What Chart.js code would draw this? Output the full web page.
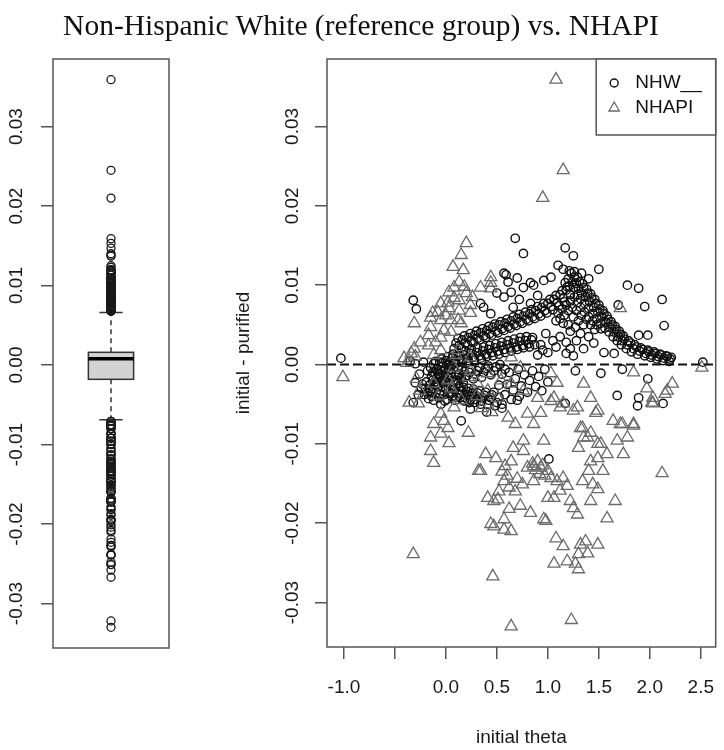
<!DOCTYPE html>
<html lang="en">
<head>
  <meta charset="UTF-8" />
  <title>Non-Hispanic White (reference group) vs. NHAPI</title>
  <style>
    body {
      margin: 0;
      background: #fff;
    }
    .wrap {
      position: relative;
      width: 724px;
      height: 750px;
    }
    .title {
      position: absolute;
      left: 0;
      top: 8px;
      width: 722px;
      text-align: center;
      font-family: "Liberation Serif", "Times New Roman", serif;
      font-size: 29.5px;
      line-height: 34px;
      color: #111;
      z-index: 2;
    }
    #boxChart {
      position: absolute;
      left: 0;
      top: 0;
    }
    #scatterChart {
      position: absolute;
      left: 200px;
      top: 0;
    }
  </style>
</head>
<body>
  <div class="wrap">
    <div class="title">Non-Hispanic White (reference group) vs. NHAPI</div>
    <canvas id="boxChart" width="200" height="750"></canvas>
    <canvas id="scatterChart" width="524" height="750"></canvas>
  </div>

  <script src="https://cdn.jsdelivr.net/npm/chart.js"></script>
  <script>
    const seriesNames = ["NHW__", "NHAPI"];
    const thetaTicks = [-1, -0.5, 0, 0.5, 1, 1.5, 2, 2.5];
    const thetaTickLabels = ["-1.0", "", "0.0", "0.5", "1.0", "1.5", "2.0", "2.5"];
    const diffTicks = [-0.03, -0.02, -0.01, 0, 0.01, 0.02, 0.03];
    const diffTickLabels = ["-0.03", "-0.02", "-0.01", "0.00", "0.01", "0.02", "0.03"];
    const thetaRange = [-1.166, 2.646];
    const diffRange = [-0.0356, 0.0385];
    const refLine = 0;

    // boxplot of all differences: lower whisker, Q1, median, Q3, upper whisker
    const boxStats = [-0.0069, -0.0018, 0.0008, 0.0016, 0.0066];

    // [initial theta, initial - purified]
    const nhwPoints = [
      [-1.03, 0.0008], [2.52, 0.0003], [-0.32, 0.0081], [-0.29, 0.0070], [-0.30, -0.0023], [-0.32, -0.0048],
      [-0.27, -0.0038], [-0.24, -0.0030], [-0.22, 0.0003], [-0.18, -0.0008], [-0.26, -0.0012], [-0.35, 0.0004],
      [-0.30, 0.0001],
      [-0.20, -0.0030], [-0.18, -0.0036], [-0.16, -0.0026], [-0.14, -0.0040], [-0.13, -0.0031], [-0.11, -0.0022],
      [-0.10, -0.0036], [-0.08, -0.0028], [-0.07, -0.0042], [-0.05, -0.0033], [-0.04, -0.0024], [-0.02, -0.0038],
      [0.00, -0.0030], [0.01, -0.0044], [0.03, -0.0035], [0.04, -0.0026], [0.06, -0.0040], [0.08, -0.0032],
      [0.09, -0.0045], [0.11, -0.0036], [0.13, -0.0028], [0.14, -0.0042], [0.16, -0.0034], [0.18, -0.0046],
      [0.20, -0.0038], [0.22, -0.0030], [0.24, -0.0044], [0.26, -0.0036], [0.28, -0.0048], [0.30, -0.0040],
      [0.33, -0.0033], [0.35, -0.0046], [0.38, -0.0039], [0.41, -0.0050], [0.44, -0.0042], [0.47, -0.0035],
      [0.50, -0.0048],
      [-0.19, -0.0022], [-0.15, -0.0034], [-0.12, -0.0045], [-0.09, -0.0024], [-0.06, -0.0037], [-0.03, -0.0029],
      [-0.01, -0.0046], [0.02, -0.0023], [0.05, -0.0037], [0.07, -0.0029], [0.10, -0.0041], [0.12, -0.0024],
      [0.15, -0.0038], [0.17, -0.0029], [0.19, -0.0042], [0.21, -0.0034], [0.23, -0.0048], [0.25, -0.0040],
      [0.27, -0.0031], [0.29, -0.0044], [0.31, -0.0036], [0.34, -0.0050], [0.36, -0.0042], [0.39, -0.0035],
      [0.42, -0.0045], [0.45, -0.0038], [0.48, -0.0052], [0.52, -0.0041], [0.55, -0.0050], [-0.17, -0.0043],
      [-0.21, -0.0038], [-0.23, -0.0025],
      [-0.14, -0.0015], [-0.11, -0.0010], [-0.09, -0.0018], [-0.06, -0.0012], [-0.03, -0.0020], [-0.01, -0.0008],
      [0.02, -0.0016], [0.05, -0.0010], [0.07, -0.0021], [0.10, -0.0013], [0.12, -0.0006], [0.15, -0.0017],
      [0.18, -0.0009], [0.21, -0.0014], [0.25, -0.0006], [0.29, -0.0012], [0.33, -0.0004], [0.37, -0.0010],
      [0.42, -0.0002], [0.47, -0.0008], [0.53, 0.0000], [0.58, -0.0006], [0.04, 0.0003], [-0.04, 0.0002],
      [0.20, 0.0002], [0.35, 0.0006],
      [-0.13, -0.0020], [-0.10, -0.0026], [-0.07, -0.0016], [-0.05, -0.0007], [-0.02, -0.0014], [0.00, -0.0022],
      [0.03, -0.0008], [0.06, -0.0016], [0.08, -0.0003], [0.11, -0.0020], [0.13, -0.0012], [0.16, -0.0003],
      [0.17, -0.0022], [0.19, -0.0016], [0.23, -0.0010], [0.27, -0.0018], [0.31, -0.0008], [0.35, -0.0016],
      [0.39, -0.0005], [0.44, -0.0013], [0.49, -0.0003], [0.01, -0.0001], [-0.08, -0.0011],
      [0.55, -0.0012], [0.60, -0.0025], [0.62, -0.0010], [0.66, -0.0032], [0.68, -0.0018], [0.71, -0.0006],
      [0.74, -0.0027], [0.77, -0.0013], [0.80, -0.0035], [0.82, -0.0020], [0.85, -0.0008], [0.88, -0.0028],
      [0.91, -0.0015], [0.94, -0.0033], [0.97, -0.0006], [1.00, -0.0022], [0.58, -0.0038], [0.64, -0.0044],
      [0.72, -0.0040], [0.52, -0.0026],
      [-0.15, -0.0004], [-0.12, 0.0001], [-0.09, -0.0006], [-0.06, 0.0003], [-0.03, -0.0002], [0.00, 0.0005],
      [0.03, 0.0000], [0.06, 0.0008], [0.09, 0.0003], [0.12, 0.0010], [0.15, 0.0006], [0.18, 0.0012],
      [0.21, 0.0008], [0.24, 0.0014], [0.27, 0.0009], [0.30, 0.0015], [0.33, 0.0011], [0.36, 0.0017],
      [0.39, 0.0013], [0.42, 0.0019], [0.45, 0.0015], [0.48, 0.0021], [0.51, 0.0017], [0.54, 0.0023],
      [0.57, 0.0019], [0.60, 0.0025], [0.63, 0.0021], [0.66, 0.0027], [0.69, 0.0022], [0.72, 0.0029],
      [0.75, 0.0024], [0.78, 0.0030], [0.81, 0.0026], [0.84, 0.0031], [0.87, 0.0025],
      [-0.13, -0.0010], [-0.10, 0.0004], [-0.07, -0.0012], [-0.04, 0.0007], [-0.01, -0.0005], [0.02, 0.0010],
      [0.05, -0.0002], [0.07, 0.0013], [0.10, 0.0001], [0.13, 0.0015], [0.16, 0.0003], [0.19, 0.0017],
      [0.22, 0.0005], [0.25, 0.0019], [0.28, 0.0006], [0.31, 0.0021], [0.34, 0.0008], [0.37, 0.0022],
      [0.40, 0.0010], [0.43, 0.0024], [0.46, 0.0011], [0.49, 0.0026], [0.52, 0.0013], [0.55, 0.0028],
      [0.58, 0.0015], [0.61, 0.0030], [0.64, 0.0017], [0.67, 0.0032], [0.70, 0.0019], [0.73, 0.0034],
      [0.76, 0.0021], [0.79, 0.0035], [0.82, 0.0022], [0.85, 0.0034],
      [0.90, 0.0012], [0.93, 0.0025], [1.00, 0.0015], [1.08, 0.0022], [1.12, 0.0035], [1.18, 0.0028],
      [1.22, 0.0020], [1.28, 0.0030], [1.35, 0.0020], [1.40, 0.0035],
      [0.08, 0.0020], [0.10, 0.0027], [0.13, 0.0024], [0.16, 0.0031], [0.19, 0.0027], [0.22, 0.0034],
      [0.25, 0.0030], [0.28, 0.0037], [0.31, 0.0033], [0.34, 0.0040], [0.37, 0.0036], [0.40, 0.0043],
      [0.43, 0.0039], [0.46, 0.0047], [0.49, 0.0042], [0.52, 0.0050], [0.55, 0.0045], [0.58, 0.0052],
      [0.61, 0.0048], [0.64, 0.0055], [0.67, 0.0051], [0.70, 0.0058], [0.73, 0.0054], [0.76, 0.0061],
      [0.79, 0.0057], [0.82, 0.0064], [0.85, 0.0060], [0.88, 0.0068], [0.91, 0.0064], [0.94, 0.0072],
      [0.97, 0.0068], [1.00, 0.0077], [1.03, 0.0073], [1.06, 0.0082], [1.09, 0.0078], [1.12, 0.0088],
      [1.15, 0.0084], [1.18, 0.0094], [1.21, 0.0099], [1.24, 0.0104], [1.26, 0.0110], [1.20, 0.0108],
      [1.23, 0.0115], [1.17, 0.0103],
      [0.12, 0.0033], [0.15, 0.0021], [0.18, 0.0036], [0.21, 0.0025], [0.24, 0.0039], [0.27, 0.0028],
      [0.30, 0.0042], [0.33, 0.0031], [0.36, 0.0045], [0.39, 0.0034], [0.42, 0.0048], [0.45, 0.0037],
      [0.48, 0.0051], [0.51, 0.0040], [0.54, 0.0054], [0.57, 0.0043], [0.60, 0.0057], [0.63, 0.0046],
      [0.66, 0.0060], [0.69, 0.0049], [0.72, 0.0063], [0.75, 0.0052], [0.78, 0.0066], [0.81, 0.0055],
      [0.84, 0.0069], [0.87, 0.0058], [0.90, 0.0073], [0.93, 0.0061], [0.96, 0.0077], [0.99, 0.0065],
      [1.02, 0.0082], [1.05, 0.0069], [1.08, 0.0087], [1.11, 0.0074], [1.14, 0.0093], [1.16, 0.0079],
      [1.19, 0.0098], [1.22, 0.0088], [1.25, 0.0097], [1.21, 0.0118], [1.26, 0.0117], [1.29, 0.0110],
      [1.28, 0.0102], [1.30, 0.0096], [1.31, 0.0104], [1.33, 0.0090], [1.35, 0.0097], [1.37, 0.0085],
      [1.39, 0.0090], [1.41, 0.0079], [1.43, 0.0084], [1.45, 0.0072], [1.47, 0.0077], [1.49, 0.0066],
      [1.51, 0.0070], [1.53, 0.0060], [1.55, 0.0064], [1.57, 0.0053], [1.59, 0.0057], [1.61, 0.0047],
      [1.63, 0.0050], [1.65, 0.0041], [1.67, 0.0044], [1.69, 0.0035], [1.71, 0.0038], [1.73, 0.0030],
      [1.75, 0.0032], [1.78, 0.0025], [1.81, 0.0027], [1.84, 0.0020], [1.87, 0.0022], [1.90, 0.0017],
      [1.93, 0.0019], [1.96, 0.0014], [1.99, 0.0016], [2.02, 0.0012], [2.05, 0.0014], [2.08, 0.0010],
      [2.11, 0.0012], [2.14, 0.0008], [2.17, 0.0010], [2.20, 0.0007],
      [1.29, 0.0088], [1.32, 0.0083], [1.34, 0.0102], [1.36, 0.0077], [1.38, 0.0095], [1.40, 0.0071],
      [1.42, 0.0089], [1.44, 0.0064], [1.46, 0.0082], [1.48, 0.0058], [1.50, 0.0075], [1.52, 0.0052],
      [1.54, 0.0068], [1.56, 0.0046], [1.58, 0.0061], [1.60, 0.0041], [1.62, 0.0054], [1.64, 0.0035],
      [1.66, 0.0048], [1.68, 0.0030], [1.70, 0.0042], [1.72, 0.0025], [1.74, 0.0036], [1.77, 0.0020],
      [1.79, 0.0030], [1.82, 0.0016], [1.85, 0.0025], [1.88, 0.0013], [1.91, 0.0021], [1.95, 0.0011],
      [1.98, 0.0018], [2.01, 0.0009], [2.04, 0.0016], [2.07, 0.0007], [2.10, 0.0013], [2.13, 0.0005],
      [2.16, 0.0011], [2.19, 0.0004], [2.21, 0.0009],
      [1.10, 0.0065], [1.14, 0.0070], [1.18, 0.0075], [1.22, 0.0080], [1.26, 0.0085], [1.29, 0.0078],
      [1.32, 0.0072], [1.36, 0.0066], [1.40, 0.0060], [1.44, 0.0055], [1.48, 0.0050], [1.52, 0.0045],
      [1.25, 0.0060], [1.30, 0.0055], [1.35, 0.0050], [1.20, 0.0050],
      [1.12, 0.0058], [1.16, 0.0062], [1.20, 0.0068], [1.24, 0.0072], [1.28, 0.0068], [1.33, 0.0062],
      [1.38, 0.0057], [1.42, 0.0050], [1.46, 0.0044], [1.22, 0.0042], [1.27, 0.0047], [1.15, 0.0052],
      [1.08, 0.0055],
      [0.57, 0.0115], [0.61, 0.0104], [0.70, 0.0109], [0.68, 0.0159], [0.76, 0.0140], [0.37, 0.0072],
      [0.44, 0.0064], [0.57, 0.0085], [0.64, 0.0091], [0.76, 0.0097], [0.86, 0.0100], [0.96, 0.0106],
      [1.03, 0.0110], [0.66, 0.0072], [0.83, 0.0077], [0.90, 0.0087], [0.34, 0.0077], [1.17, 0.0147],
      [1.25, 0.0137], [1.50, 0.0120], [1.78, 0.0100], [1.89, 0.0096], [2.12, 0.0082], [1.95, 0.0073],
      [2.14, 0.0049], [1.89, 0.0037], [1.98, 0.0037], [1.69, 0.0075], [1.18, 0.0014], [1.25, 0.0011],
      [0.59, 0.0113], [0.83, 0.0103], [1.10, 0.0125], [1.15, 0.0120], [1.32, 0.0039], [1.45, 0.0027],
      [1.65, 0.0014], [1.55, 0.0015], [0.98, 0.0039], [0.95, 0.0018], [1.05, 0.0030], [0.50, 0.0090],
      [0.72, 0.0082], [1.33, 0.0115], [1.40, 0.0108],
      [0.15, -0.0071], [0.24, -0.0056], [1.17, -0.0049], [1.88, -0.0052], [2.13, -0.0049], [1.01, -0.0119],
      [1.68, -0.0039], [1.89, -0.0042], [1.98, -0.0018], [1.27, -0.0008], [1.52, -0.0011], [1.73, -0.0006],
      [-0.05, -0.0050], [0.40, -0.0060], [0.55, -0.0055], [0.70, -0.0045]
    ];

    const nhapiPoints = [
      [0.20, 0.0153], [0.15, 0.0138], [0.07, 0.0123], [0.17, 0.0119], [0.44, 0.0110], [0.13, 0.0104],
      [0.08, 0.0097], [0.34, 0.0097], [0.44, 0.0096], [0.03, 0.0091], [0.20, 0.0090], [0.26, 0.0085],
      [0.02, 0.0078], [0.13, 0.0081], [0.24, 0.0075], [-0.08, 0.0066], [0.03, 0.0071], [0.13, 0.0068],
      [-0.15, 0.0059], [-0.05, 0.0056], [0.05, 0.0056], [0.15, 0.0052], [-0.31, 0.0052], [-0.15, 0.0047],
      [-0.02, 0.0043], [0.05, 0.0041], [-0.17, 0.0037], [-0.05, 0.0034], [-0.17, 0.0024], [-0.31, 0.0020],
      [-0.34, 0.0014], [-0.41, 0.0008], [-1.01, -0.0016], [-0.13, 0.0065], [0.12, 0.0056], [0.24, 0.0065],
      [-0.05, 0.0077], [0.08, 0.0084], [0.18, 0.0098], [0.44, 0.0103], [-0.36, 0.0005], [-0.38, 0.0002],
      [-0.30, 0.0010], [-0.25, 0.0028], [-0.10, 0.0028], [0.00, 0.0062], [0.10, 0.0012], [0.24, 0.0009],
      [0.12, 0.0018], [-0.05, 0.0018], [-0.12, 0.0012],
      [1.08, 0.0359], [1.15, 0.0245], [0.95, 0.0210],
      [0.08, -0.0004], [0.24, -0.0008], [0.41, -0.0011], [0.54, -0.0020], [0.73, -0.0004], [0.64, 0.0009],
      [-0.29, -0.0018], [-0.26, -0.0033], [-0.12, -0.0024], [0.02, -0.0020], [0.22, -0.0016], [0.31, -0.0024],
      [0.41, -0.0033], [0.51, -0.0042], [0.64, -0.0024], [0.76, -0.0033], [0.90, -0.0042], [1.03, -0.0011],
      [1.09, -0.0023], [1.12, -0.0054], [1.03, -0.0046], [1.25, -0.0058], [1.42, -0.0042], [1.49, -0.0058],
      [1.64, -0.0071], [1.71, -0.0075], [1.84, -0.0075], [1.97, -0.0030], [2.03, -0.0042], [2.17, -0.0033],
      [2.22, -0.0024], [-0.05, -0.0062], [0.08, -0.0054], [-0.12, -0.0075], [0.02, -0.0080], [0.22, -0.0086],
      [0.61, -0.0067], [0.68, -0.0075], [0.80, -0.0062], [0.86, -0.0075], [0.96, -0.0096], [0.76, -0.0096],
      [1.32, -0.0080], [1.39, -0.0092], [1.49, -0.0100], [1.68, -0.0096], [1.78, -0.0092], [-0.36, -0.0048],
      [-0.27, -0.0049], [1.71, 0.0071], [1.84, -0.0010], [2.15, -0.0037], [2.02, -0.0048], [2.51, -0.0004],
      [1.06, -0.0042], [1.15, -0.0049], [1.29, -0.0054], [1.35, -0.0024], [0.15, -0.0045], [0.35, -0.0055],
      [0.45, -0.0060], [-0.08, -0.0040], [0.05, -0.0030], [0.30, -0.0040],
      [-0.02, -0.0071], [-0.15, -0.0092], [-0.05, -0.0087], [0.03, -0.0099], [-0.15, -0.0109], [-0.12, -0.0124],
      [0.93, -0.0061], [0.39, -0.0113], [0.49, -0.0118], [0.34, -0.0134], [0.66, -0.0105], [0.64, -0.0122],
      [0.76, -0.0109], [0.57, -0.0147], [0.47, -0.0172], [0.62, -0.0182], [0.73, -0.0178], [0.83, -0.0187],
      [0.47, -0.0204], [0.57, -0.0208], [0.64, -0.0210], [0.98, -0.0197], [0.80, -0.0130], [0.86, -0.0128],
      [0.93, -0.0130], [1.00, -0.0134], [0.70, -0.0144], [0.75, -0.0151], [0.86, -0.0147], [1.03, -0.0143],
      [1.09, -0.0147], [1.15, -0.0143], [1.19, -0.0153], [1.12, -0.0159], [1.22, -0.0172], [1.06, -0.0168],
      [1.00, -0.0168], [1.29, -0.0189], [1.25, -0.0181], [1.08, -0.0219], [1.15, -0.0229], [1.06, -0.0251],
      [1.19, -0.0248], [1.27, -0.0251], [1.30, -0.0258], [1.32, -0.0227], [1.37, -0.0223], [1.49, -0.0227],
      [1.39, -0.0238], [1.30, -0.0239], [1.58, -0.0194], [1.66, -0.0172], [1.42, -0.0172], [1.49, -0.0157],
      [1.44, -0.0151], [1.34, -0.0147], [1.40, -0.0134], [1.54, -0.0134], [1.42, -0.0122], [1.49, -0.0118],
      [1.58, -0.0113], [1.74, -0.0113], [1.30, -0.0105], [1.35, -0.0092], [1.42, -0.0086], [1.52, -0.0100],
      [1.34, -0.0080], [1.73, -0.0075], [1.84, -0.0077], [2.12, -0.0137], [1.47, -0.0061], [2.03, -0.0049],
      [0.85, -0.0125], [0.90, -0.0122], [0.95, -0.0127], [0.92, -0.0138], [0.88, -0.0133], [0.97, -0.0140],
      [0.58, -0.0128], [0.60, -0.0140], [0.55, -0.0135], [0.62, -0.0155], [0.68, -0.0160], [0.52, -0.0160],
      [0.41, -0.0168], [0.51, -0.0170], [0.57, -0.0195], [0.44, -0.0201], [0.96, -0.0195], [0.32, -0.0134],
      [-0.32, -0.0239], [0.46, -0.0267], [0.64, -0.0330], [1.23, -0.0322]
    ];

    const sansFont = "'Liberation Sans', Arial, sans-serif";
    Chart.defaults.font.family = sansFont;
    Chart.defaults.color = "#1a1a1a";
    const tickFont = { family: sansFont, size: 19 };
    const axisGrey = "#555";

    // outliers of the left boxplot are the differences beyond the whiskers
    const allDiffs = nhwPoints.concat(nhapiPoints).map(p => p[1]);
    const boxOutliers = allDiffs.filter(v => v > boxStats[4] || v < boxStats[0]);

    function tickGrid() {
      return {
        drawOnChartArea: false,
        drawTicks: true,
        tickLength: 12,
        color: axisGrey,
        lineWidth: 1.5
      };
    }

    function diffAxis(width, pad) {
      return {
        type: "linear",
        min: diffRange[0],
        max: diffRange[1],
        afterBuildTicks: s => { s.ticks = diffTicks.map(v => ({ value: v })); },
        afterFit: s => { s.width = width; },
        grid: tickGrid(),
        border: { display: false },
        ticks: {
          autoSkip: false,
          minRotation: 90,
          maxRotation: 90,
          crossAlign: "center",
          padding: pad,
          font: tickFont,
          color: "#1a1a1a",
          callback: (v, i) => diffTickLabels[i]
        }
      };
    }

    const frameBox = {
      id: "frameBox",
      afterDraw(chart) {
        const { ctx, chartArea: a } = chart;
        ctx.save();
        ctx.strokeStyle = axisGrey;
        ctx.lineWidth = 1.5;
        ctx.strokeRect(a.left, a.top, a.right - a.left, a.bottom - a.top);
        ctx.restore();
      }
    };

    const boxDraw = {
      id: "boxDraw",
      beforeDatasetsDraw(chart) {
        const { ctx, scales: { x, y } } = chart;
        const cx = x.getPixelForValue(0);
        const half = x.getPixelForValue(0.39) - cx;
        const cap = x.getPixelForValue(0.2) - cx;
        const [lo, q1, med, q3, hi] = boxStats.map(v => y.getPixelForValue(v));
        ctx.save();
        ctx.strokeStyle = "#333";
        ctx.lineWidth = 1.5;
        ctx.setLineDash([5, 4]);
        ctx.beginPath();
        ctx.moveTo(cx, q3); ctx.lineTo(cx, hi);
        ctx.moveTo(cx, q1); ctx.lineTo(cx, lo);
        ctx.stroke();
        ctx.setLineDash([]);
        ctx.beginPath();
        ctx.moveTo(cx - cap, hi); ctx.lineTo(cx + cap, hi);
        ctx.moveTo(cx - cap, lo); ctx.lineTo(cx + cap, lo);
        ctx.stroke();
        ctx.fillStyle = "#d3d3d3";
        ctx.fillRect(cx - half, q3, half * 2, q1 - q3);
        ctx.strokeRect(cx - half, q3, half * 2, q1 - q3);
        ctx.strokeStyle = "#000";
        ctx.lineWidth = 3.5;
        ctx.beginPath();
        ctx.moveTo(cx - half, med); ctx.lineTo(cx + half, med);
        ctx.stroke();
        ctx.restore();
      }
    };

    const zeroLine = {
      id: "zeroLine",
      afterDatasetsDraw(chart) {
        const { ctx, chartArea: a, scales: { y } } = chart;
        const py = y.getPixelForValue(refLine);
        ctx.save();
        ctx.strokeStyle = "#111";
        ctx.lineWidth = 2;
        ctx.setLineDash([9, 4]);
        ctx.beginPath();
        ctx.moveTo(a.left, py);
        ctx.lineTo(a.right, py);
        ctx.stroke();
        ctx.restore();
      }
    };

    const boxLegend = {
      id: "boxLegend",
      afterDraw(chart) {
        const { ctx, chartArea: a } = chart;
        const sets = chart.data.datasets;
        ctx.save();
        ctx.font = "19px " + sansFont;
        const textW = Math.max(...sets.map(d => ctx.measureText(d.label).width));
        const w = textW + 53;
        const h = 76;
        const left = a.right - w;
        const top = a.top;
        ctx.fillStyle = "#fff";
        ctx.fillRect(left, top, w, h);
        ctx.strokeStyle = axisGrey;
        ctx.lineWidth = 1.5;
        ctx.strokeRect(left, top, w, h);
        sets.forEach((d, i) => {
          const rowY = top + 24 + i * 25;
          ctx.strokeStyle = d.pointBorderColor;
          ctx.fillStyle = "rgba(0,0,0,0)";
          ctx.lineWidth = d.pointBorderWidth;
          Chart.helpers.drawPoint(ctx, {
            pointStyle: d.pointStyle,
            radius: d.pointStyle === "triangle" ? 6 : 4,
            borderWidth: d.pointBorderWidth,
            rotation: 0
          }, left + 18, rowY);
          ctx.fillStyle = "#111";
          ctx.textBaseline = "middle";
          ctx.textAlign = "left";
          ctx.fillText(d.label, left + 39, rowY);
        });
        ctx.restore();
      }
    };

    new Chart(document.getElementById("boxChart"), {
      type: "scatter",
      data: {
        datasets: [{
          label: "all",
          data: boxOutliers.map(v => ({ x: 0, y: v })),
          pointStyle: "circle",
          pointRadius: 4,
          pointBorderWidth: 1.3,
          pointBorderColor: "#1a1a1a",
          pointBackgroundColor: "rgba(0,0,0,0)"
        }]
      },
      options: {
        responsive: false,
        animation: false,
        layout: { padding: { top: 59, right: 31, bottom: 102, left: 0 } },
        plugins: { legend: { display: false }, tooltip: { enabled: false } },
        scales: {
          x: { type: "linear", min: -1, max: 1, display: false },
          y: diffAxis(53, 3)
        }
      },
      plugins: [boxDraw, frameBox]
    });

    new Chart(document.getElementById("scatterChart"), {
      type: "scatter",
      data: {
        datasets: [
          {
            label: seriesNames[0],
            data: nhwPoints.map(([x, y]) => ({ x, y })),
            pointStyle: "circle",
            pointRadius: 4.2,
            pointBorderWidth: 1.4,
            pointBorderColor: "#111",
            pointBackgroundColor: "rgba(0,0,0,0)",
            order: 2
          },
          {
            label: seriesNames[1],
            data: nhapiPoints.map(([x, y]) => ({ x, y })),
            pointStyle: "triangle",
            pointRadius: 7,
            pointBorderWidth: 1.3,
            pointBorderColor: "#6a6a6a",
            pointBackgroundColor: "rgba(0,0,0,0)",
            order: 1
          }
        ]
      },
      options: {
        responsive: false,
        animation: false,
        layout: { padding: { top: 59, right: 7, bottom: 0, left: 0 } },
        plugins: { legend: { display: false }, tooltip: { enabled: false } },
        scales: {
          x: {
            type: "linear",
            min: thetaRange[0],
            max: thetaRange[1],
            afterBuildTicks: s => { s.ticks = thetaTicks.map(v => ({ value: v })); },
            afterFit: s => {
              s.height = 103;
              s.paddingLeft = 0;
              s.paddingRight = 0;
            },
            grid: tickGrid(),
            border: { display: false },
            ticks: {
              autoSkip: false,
              maxRotation: 0,
              padding: 17,
              font: tickFont,
              color: "#1a1a1a",
              callback: (v, i) => thetaTickLabels[i]
            },
            title: {
              display: true,
              text: "initial theta",
              font: tickFont,
              color: "#1a1a1a",
              padding: { top: 0, bottom: 1 }
            }
          },
          y: Object.assign(diffAxis(127, 1), {
            title: {
              display: true,
              text: "initial - purified",
              font: tickFont,
              color: "#1a1a1a",
              padding: { top: 32, bottom: 0 }
            }
          })
        }
      },
      plugins: [zeroLine, frameBox, boxLegend]
    });
  </script>
</body>
</html>
